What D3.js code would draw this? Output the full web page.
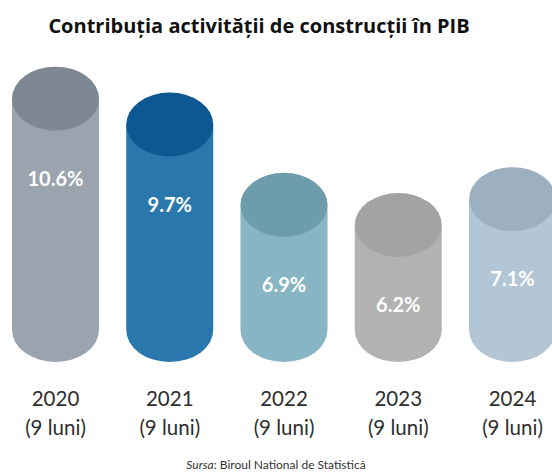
<!DOCTYPE html>
<html>
<head>
<meta charset="utf-8">
<script src="https://cdn.jsdelivr.net/npm/d3@7"></script>
<style>
  html, body { margin: 0; padding: 0; background: #fff; }
  svg { display: block; }
</style>
</head>
<body>
<svg id="chart" width="552" height="472"></svg>
<script>
const years = ["2020", "2021", "2022", "2023", "2024"];
const periodLabel = "(9 luni)";
const values = [10.6, 9.7, 6.9, 6.2, 7.1];
const valueLabels = ["10.6%", "9.7%", "6.9%", "6.2%", "7.1%"];
const bodyColors = ["#9aa3ae", "#2a77ae", "#88b5c3", "#b2b2b2", "#b3c6d5"];
const topColors  = ["#7e8892", "#0d5893", "#6d9cab", "#a3a3a3", "#9db0c0"];
const titleText = "Contribuția activității de construcții în PIB";
const sourceLabel = "Sursa";
const sourceText = ": Biroul National de Statistică";

const svg = d3.select("#chart");
const W = 552, H = 472;

const x = d3.scalePoint().domain(years).range([55.5, 512.5]);
const y = d3.scaleLinear().domain([0, 12]).range([402.9, 58.5]);
const baseY = 330;
const rx = 43.5, ry = 32;

// Title
svg.append("text")
  .attr("x", 259).attr("y", 33)
  .attr("text-anchor", "middle")
  .attr("font-family", "'Open Sans', 'Noto Sans', sans-serif")
  .attr("font-weight", 700)
  .attr("font-size", 20)
  .attr("fill", "#111")
  .text(titleText);

const data = years.map((yr, i) => ({
  year: yr, value: values[i], label: valueLabels[i],
  body: bodyColors[i], top: topColors[i]
}));

const g = svg.append("g");
const cyl = g.selectAll("g.cyl").data(data).join("g").attr("class", "cyl");

cyl.append("path")
  .attr("fill", d => d.body)
  .attr("d", d => {
    const cx = x(d.year), yt = y(d.value);
    return `M${cx - rx},${yt} L${cx - rx},${baseY} A${rx},${ry} 0 0 0 ${cx + rx},${baseY} L${cx + rx},${yt} Z`;
  });

cyl.append("ellipse")
  .attr("cx", d => x(d.year))
  .attr("cy", d => y(d.value))
  .attr("rx", rx).attr("ry", ry)
  .attr("fill", d => d.top);

cyl.append("text")
  .attr("x", d => x(d.year))
  .attr("y", d => y(d.value) + 87)
  .attr("text-anchor", "middle")
  .attr("font-family", "Lato, 'Open Sans', sans-serif")
  .attr("font-weight", 700)
  .attr("font-size", 20)
  .attr("fill", "#ffffff")
  .text(d => d.label);

// X labels
const xl = svg.append("g").selectAll("text").data(years).join("text")
  .attr("x", d => x(d))
  .attr("text-anchor", "middle")
  .attr("font-family", "Lato, sans-serif")
  .attr("font-size", 20.5)
  .attr("fill", "#2e2e2e");
xl.append("tspan").attr("x", d => x(d)).attr("y", 406).text(d => d);
xl.append("tspan").attr("x", d => x(d)).attr("y", 435).text(periodLabel);

// Source
const src = svg.append("text")
  .attr("x", W / 2).attr("y", 469)
  .attr("text-anchor", "middle")
  .attr("font-family", "Lato, sans-serif")
  .attr("font-size", 12)
  .attr("fill", "#333");
src.append("tspan").attr("font-style", "italic").text(sourceLabel);
src.append("tspan").text(sourceText);
</script>
</body>
</html>
